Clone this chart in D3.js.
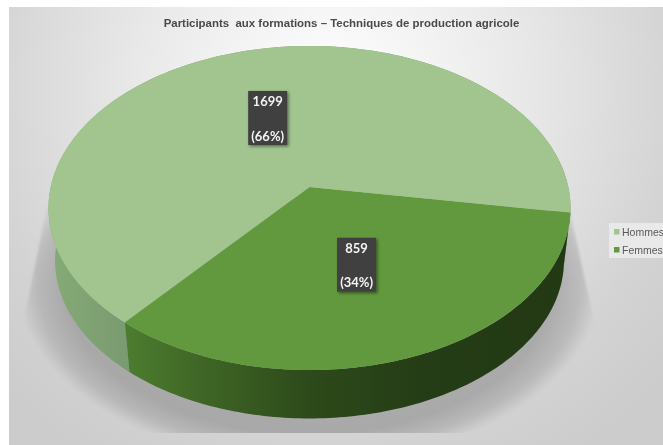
<!DOCTYPE html>
<html>
<head>
<meta charset="utf-8">
<script src="https://cdn.jsdelivr.net/npm/d3@7"></script>
<style>
html, body { margin: 0; padding: 0; background: #fff; overflow: hidden; }
svg { filter: blur(0.4px); }
</style>
</head>
<body>
<div id="chart"></div>
<script>
"use strict";
var titleText = "Participants  aux formations \u2013 Techniques de production agricole";
var categories = ["Hommes", "Femmes"];
var values = [1699, 859];
var percentLabels = ["(66%)", "(34%)"];
var sliceColors = ["#a2c48f", "#62993e"];

var width = 663, height = 445;
var deg = Math.PI / 180;

var svg = d3.select("#chart").append("svg").attr("width", width).attr("height", height).style("display", "block");
var defs = svg.append("defs");

// background
var bg = defs.append("radialGradient").attr("id", "bg").attr("gradientUnits", "userSpaceOnUse")
    .attr("cx", 330).attr("cy", 90).attr("r", 440);
[[0, "#ffffff"], [0.45, "#e8e8e8"], [0.8, "#d3d3d3"], [1, "#cccccc"]].forEach(function(s) {
    bg.append("stop").attr("offset", s[0]).attr("stop-color", s[1]);
});
svg.append("rect").attr("x", 9).attr("y", 7).attr("width", width - 9).attr("height", height - 7).attr("fill", "url(#bg)");

// perspective of the pie plane: unit circle -> screen
var cx = 309.5, cy = 187, a = 159.3, b = 258.8, k = 0.1296;
var wallScale = 0.975, wallDrop = 53;
function project(angle, r, s, dy) {
    var x = r * Math.sin(angle), y = -r * Math.cos(angle), w = 1 - k * y;
    return [cx + s * b * x / w, cy + dy + s * a * y / w];
}
function topPoint(angle, r) { return project(angle, r === undefined ? 1 : r, 1, 0); }
function bottomPoint(angle) { return project(angle, 1, wallScale, wallDrop); }

var pieData = d3.pie().sort(null).startAngle(220 * deg).endAngle(580 * deg)(values);
var color = d3.scaleOrdinal().domain(categories).range(sliceColors);
var line = d3.line();

function arcAngles(d) {
    var steps = Math.ceil((d.endAngle - d.startAngle) / deg);
    return d3.range(steps + 1).map(function(i) {
        return d.startAngle + (d.endAngle - d.startAngle) * i / steps;
    });
}

// cast shadow
var shadowGrad = defs.append("radialGradient").attr("id", "shadowGrad").attr("gradientUnits", "userSpaceOnUse")
    .attr("cx", 0).attr("cy", 0).attr("r", 1)
    .attr("gradientTransform", "translate(309,283) scale(292,180)");
[[0, 0.46], [0.84, 0.46], [0.93, 0.28], [1, 0]].forEach(function(s) {
    shadowGrad.append("stop").attr("offset", s[0]).attr("stop-color", "#777").attr("stop-opacity", s[1]);
});
defs.append("filter").attr("id", "soft").append("feGaussianBlur").attr("stdDeviation", 1.2);
defs.append("clipPath").attr("id", "shadowClip").append("rect").attr("x", 0).attr("y", 0).attr("width", width).attr("height", 433);
svg.append("g").attr("clip-path", "url(#shadowClip)")
    .append("path")
    .attr("d", line(function() {
        var r = topPoint(99 * deg), l = topPoint(270 * deg);
        return [l, [20, 340], [20, 445], [600, 445], [598, 340], r];
    }()))
    .attr("fill", "url(#shadowGrad)").attr("filter", "url(#soft)");

// side walls
var wallStops = [
    [[54, "#84aa76"], [128, "#7a9a70"]],
    [[128, "#4c7c2f"], [200, "#3f6626"], [310, "#2d4a1a"], [420, "#253d16"], [564, "#223914"]]
];
wallStops.forEach(function(stops, i) {
    var g = defs.append("linearGradient").attr("id", "wall" + i).attr("gradientUnits", "userSpaceOnUse")
        .attr("x1", stops[0][0]).attr("x2", stops[stops.length - 1][0]).attr("y1", 0).attr("y2", 0);
    stops.forEach(function(s) {
        g.append("stop").attr("offset", (s[0] - stops[0][0]) / (stops[stops.length - 1][0] - stops[0][0])).attr("stop-color", s[1]);
    });
});
svg.append("g").selectAll("path").data(pieData).enter().append("path")
    .attr("d", function(d) {
        var angles = arcAngles(d);
        return line(angles.map(function(t) { return topPoint(t); }).concat(angles.slice().reverse().map(bottomPoint))) + "Z";
    })
    .attr("fill", function(d, i) { return "url(#wall" + i + ")"; });

// top face
svg.append("g").selectAll("path").data(pieData).enter().append("path")
    .attr("d", function(d) {
        return line([[cx, cy]].concat(arcAngles(d).map(function(t) { return topPoint(t); }))) + "Z";
    })
    .attr("fill", function(d, i) { return color(categories[i]); });

// title
svg.append("text").attr("x", 341.5).attr("y", 27).attr("text-anchor", "middle")
    .style("white-space", "pre")
    .attr("font-family", "Liberation Sans, Arial, sans-serif").attr("font-weight", "bold")
    .attr("font-size", 11.45).attr("fill", "#4a4a4a").text(titleText);

// data labels
var labelFilter = defs.append("filter").attr("id", "labelShadow").attr("x", "-30%").attr("y", "-30%").attr("width", "170%").attr("height", "170%");
labelFilter.append("feDropShadow").attr("dx", 1.5).attr("dy", 1.5).attr("stdDeviation", 1.5).attr("flood-color", "#000").attr("flood-opacity", 0.45);
var labels = svg.append("g").selectAll("g").data(pieData).enter().append("g")
    .attr("transform", function(d) {
        var p = topPoint((d.startAngle + d.endAngle) / 2, 0.49);
        return "translate(" + p[0] + "," + p[1] + ")";
    });
labels.append("rect").attr("x", -19.5).attr("y", -27).attr("width", 39).attr("height", 54)
    .attr("fill", "#3f3f3f").attr("filter", "url(#labelShadow)");
labels.selectAll("text").data(function(d, i) { return [d.value, percentLabels[i]]; }).enter().append("text")
    .attr("y", function(d, i) { return i === 0 ? -16.5 : 18; })
    .attr("dy", "0.35em").attr("text-anchor", "middle")
    .attr("font-family", "Lato, sans-serif").attr("font-weight", "bold").attr("font-size", 13)
    .attr("fill", "#f4f4f4").text(function(d) { return d; });

// legend
svg.append("rect").attr("x", 609).attr("y", 223).attr("width", 54).attr("height", 35).attr("fill", "#e9e9e9");
var legendY = d3.scalePoint().domain(categories).range([232, 250]);
var legend = svg.append("g").selectAll("g").data(categories).enter().append("g")
    .attr("transform", function(d) { return "translate(614," + legendY(d) + ")"; });
legend.append("rect").attr("x", 0).attr("y", -3).attr("width", 5.5).attr("height", 5.5).attr("fill", function(d) { return color(d); });
legend.append("text").attr("x", 8).attr("dy", "0.35em")
    .attr("font-family", "Liberation Sans, Arial, sans-serif").attr("font-size", 10.5).attr("fill", "#595959")
    .text(function(d) { return d; });
</script>
</body>
</html>
